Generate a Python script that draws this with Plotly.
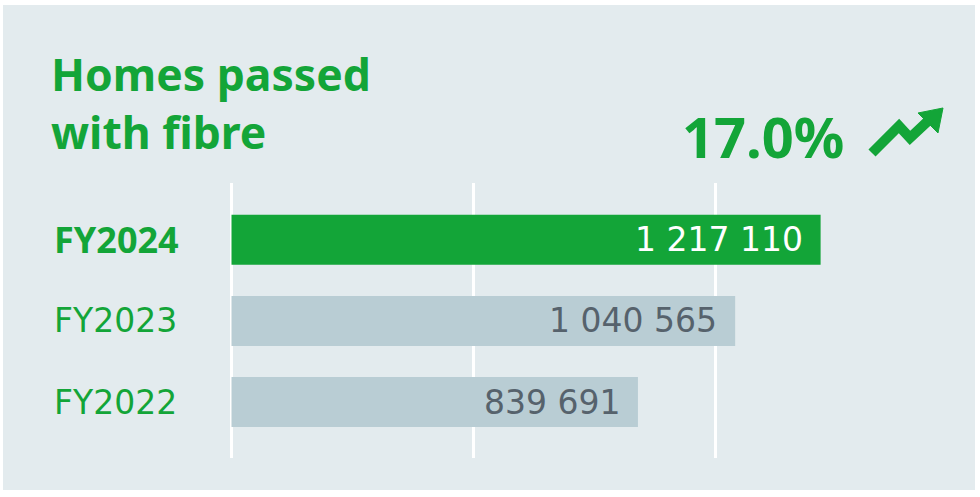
import plotly.graph_objects as go

# ---- data ----
categories = ["FY2022", "FY2023", "FY2024"]
homes_passed = [839691, 1040565, 1217110]
bar_colors = ["#b9cdd4", "#b9cdd4", "#13a538"]
label_colors = ["#56626c", "#56626c", "#ffffff"]
cat_weights = ["normal", "normal", "bold"]
grid_ticks = [0, 500000, 1000000]
growth_text = "17.0%"
title_text = "Homes passed<br>with fibre"

W, H = 980, 497
ML, MR, MT, MB = 229, 23, 183, 39
PW, PH = W - ML - MR, H - MT - MB
UNITS_PER_PX = 2066

def px(x):
    return (x - ML) / PW

def py(y):
    return (H - MB - y) / PH

GREEN = "#13a538"
PANEL = "#e3ebee"
TITLE_FONT = "Noto Sans"
LABEL_FONT = "DejaVu Sans"

fig = go.Figure()
fig.add_trace(go.Bar(
    y=categories, x=homes_passed, orientation="h",
    marker=dict(color=bar_colors, line=dict(width=0)),
    width=0.617, hoverinfo="skip",
))

annotations = []
# value labels inside bars
for c, v, col in zip(categories, homes_passed, label_colors):
    annotations.append(dict(
        x=v, y=c, xref="x", yref="y", xanchor="right", yanchor="middle",
        xshift=-16, text=f"{v:,}".replace(",", " "), showarrow=False,
        font=dict(family=LABEL_FONT, size=33, color=col),
    ))
# category labels
for c, w in zip(categories, cat_weights):
    bold = w == "bold"
    annotations.append(dict(
        x=px(52), y=c, xref="paper", yref="y", xanchor="left", yanchor="middle",
        text=c, showarrow=False,
        font=dict(family=TITLE_FONT if bold else LABEL_FONT, size=36 if bold else 33,
                  color=GREEN, weight=w),
    ))
# title
annotations.append(dict(
    x=px(49), y=py(41), xref="paper", yref="paper", xanchor="left", yanchor="top",
    text=title_text, showarrow=False, align="left",
    font=dict(family=TITLE_FONT, size=44.5, color=GREEN, weight="bold"),
))
# growth figure
annotations.append(dict(
    x=px(846), y=py(136), xref="paper", yref="paper", xanchor="right", yanchor="middle",
    text=growth_text, showarrow=False,
    font=dict(family=TITLE_FONT, size=56, color=GREEN, weight="bold"),
))

def path_from(points, close=False):
    s = "M " + " L ".join(f"{px(x):.5f},{py(y):.5f}" for x, y in points)
    return s + (" Z" if close else "")

shapes = [
    # panel background
    dict(type="rect", xref="paper", yref="paper", layer="below",
         x0=px(3), x1=px(975), y0=py(490), y1=py(5),
         fillcolor=PANEL, line=dict(width=0)),
    # trend arrow zigzag
    dict(type="path", xref="paper", yref="paper",
         path=path_from([(872, 153), (899, 126), (910, 138), (928, 121)]),
         line=dict(color=GREEN, width=10), fillcolor="rgba(0,0,0,0)"),
    # arrowhead
    dict(type="path", xref="paper", yref="paper",
         path=path_from([(943, 108), (918, 113), (938, 133)], close=True),
         line=dict(color=GREEN, width=1), fillcolor=GREEN),
]

x0_val = -(231.5 - ML) * UNITS_PER_PX

fig.update_layout(
    width=W, height=H,
    margin=dict(l=ML, r=MR, t=MT, b=MB, pad=0),
    paper_bgcolor="#ffffff", plot_bgcolor="rgba(0,0,0,0)",
    showlegend=False,
    xaxis=dict(range=[x0_val, x0_val + PW * UNITS_PER_PX], tickvals=grid_ticks,
               showticklabels=False, showgrid=True, gridcolor="#ffffff", gridwidth=3,
               zeroline=False, showline=False, fixedrange=True),
    yaxis=dict(range=[-0.69, 2.70], categoryorder="array", categoryarray=categories,
               showticklabels=False, showgrid=False, zeroline=False, showline=False,
               fixedrange=True),
    annotations=annotations, shapes=shapes,
)

fig.write_html("out.html", config={"displayModeBar": False},
               post_script="document.body.style.margin='0';document.body.style.overflow='hidden';")
